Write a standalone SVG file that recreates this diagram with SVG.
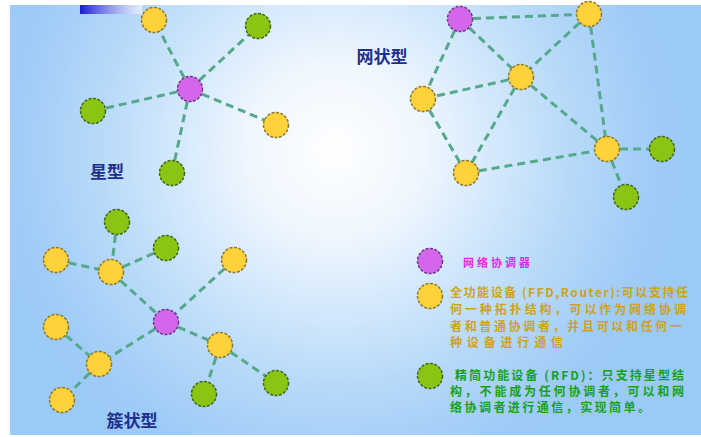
<svg xmlns="http://www.w3.org/2000/svg" width="701" height="437" viewBox="0 0 701 437">
  <defs>
    <radialGradient id="bg" cx="335" cy="150" r="360" gradientUnits="userSpaceOnUse">
      <stop offset="0" stop-color="#ffffff"/>
      <stop offset="0.25" stop-color="#eef6fe"/>
      <stop offset="0.65" stop-color="#b8daf9"/>
      <stop offset="0.9" stop-color="#9ecbf7"/>
      <stop offset="1" stop-color="#9ccaf7"/>
    </radialGradient>
    <linearGradient id="bar" x1="0" y1="0" x2="1" y2="0">
      <stop offset="0" stop-color="#1a1ad0"/>
      <stop offset="1" stop-color="#ffffff" stop-opacity="0.6"/>
    </linearGradient>
  </defs>
  <style>
    .link { stroke: #55a88c; stroke-width: 3; stroke-dasharray: 8 5; fill: none; }
    .ffd { fill: #ffd23c; stroke: #8c7a2a; stroke-width: 1.5; stroke-dasharray: 3 1.5; }
    .rfd { fill: #8cc414; stroke: #3e6a14; stroke-width: 1.5; stroke-dasharray: 3 1.5; }
    .pan { fill: #d466ec; stroke: #6e3a86; stroke-width: 1.5; stroke-dasharray: 3 1.5; }
    .title { font-family: "Noto Sans CJK SC", "Liberation Sans", sans-serif; font-size: 17px; font-weight: bold; fill: #1e2e8c; }
    .legend { font-family: "Noto Sans CJK SC", "Liberation Sans", sans-serif; font-size: 12px; font-weight: bold; }
    .gold { fill: #cfa21a; }
    .green { fill: #16a21a; }
    .mag { fill: #e02ce6; font-size: 11px; }
  </style>

  <!-- backdrop -->
  <rect x="0" y="0" width="701" height="437" fill="#ffffff"/>
  <rect x="10" y="5" width="691" height="430" fill="url(#bg)"/>
  <rect x="80" y="5" width="62" height="9" fill="url(#bar)"/>

  <!-- connectors -->
  <g id="connectors">
    <!-- star -->
    <path class="link" d="M190 89L154 20M190 89L258 26M190 89L93 111M190 89L276 125M190 89L172 173"/>
    <!-- mesh -->
    <path class="link" d="M460 19L589 14M460 19L521 77M460 19L423 99M589 14L521 77M589 14L607 149M521 77L423 99M521 77L466 173M521 77L607 149M423 99L466 173M466 173L607 149M607 149L662 149M607 149L626 197"/>
    <!-- cluster tree -->
    <path class="link" d="M117 222L111 272M166 248L111 272M56 260L111 272M111 272L166 322M234 260L166 322M166 322L99 364M166 322L220 345M56 327L99 364M99 364L62 400M220 345L204 394M220 345L276 383"/>
  </g>

  <!-- star topology -->
  <g id="star">
    <g id="star-pan"><circle class="pan" cx="190" cy="89" r="12.5"/></g>
    <g id="star-ffd-1"><circle class="ffd" cx="154" cy="20" r="12.5"/></g>
    <g id="star-rfd-1"><circle class="rfd" cx="258" cy="26" r="12.5"/></g>
    <g id="star-rfd-2"><circle class="rfd" cx="93" cy="111" r="12.5"/></g>
    <g id="star-ffd-2"><circle class="ffd" cx="276" cy="125" r="12.5"/></g>
    <g id="star-rfd-3"><circle class="rfd" cx="172" cy="173" r="12.5"/></g>
    <text class="title" x="107" y="178" text-anchor="middle">星型</text>
  </g>

  <!-- mesh topology -->
  <g id="mesh">
    <g id="mesh-pan"><circle class="pan" cx="460" cy="19" r="12.5"/></g>
    <g id="mesh-ffd-1"><circle class="ffd" cx="589" cy="14" r="12.5"/></g>
    <g id="mesh-ffd-2"><circle class="ffd" cx="521" cy="77" r="12.5"/></g>
    <g id="mesh-ffd-3"><circle class="ffd" cx="423" cy="99" r="12.5"/></g>
    <g id="mesh-ffd-4"><circle class="ffd" cx="607" cy="149" r="12.5"/></g>
    <g id="mesh-ffd-5"><circle class="ffd" cx="466" cy="173" r="12.5"/></g>
    <g id="mesh-rfd-1"><circle class="rfd" cx="662" cy="149" r="12.5"/></g>
    <g id="mesh-rfd-2"><circle class="rfd" cx="626" cy="197" r="12.5"/></g>
    <text class="title" x="382" y="63" text-anchor="middle">网状型</text>
  </g>

  <!-- cluster-tree topology -->
  <g id="cluster">
    <g id="cl-rfd-1"><circle class="rfd" cx="117" cy="222" r="12.5"/></g>
    <g id="cl-rfd-2"><circle class="rfd" cx="166" cy="248" r="12.5"/></g>
    <g id="cl-ffd-1"><circle class="ffd" cx="56" cy="260" r="12.5"/></g>
    <g id="cl-ffd-2"><circle class="ffd" cx="111" cy="272" r="12.5"/></g>
    <g id="cl-ffd-3"><circle class="ffd" cx="234" cy="260" r="12.5"/></g>
    <g id="cl-pan"><circle class="pan" cx="166" cy="322" r="12.5"/></g>
    <g id="cl-ffd-4"><circle class="ffd" cx="56" cy="327" r="12.5"/></g>
    <g id="cl-ffd-5"><circle class="ffd" cx="99" cy="364" r="12.5"/></g>
    <g id="cl-ffd-6"><circle class="ffd" cx="62" cy="400" r="12.5"/></g>
    <g id="cl-ffd-7"><circle class="ffd" cx="220" cy="345" r="12.5"/></g>
    <g id="cl-rfd-3"><circle class="rfd" cx="204" cy="394" r="12.5"/></g>
    <g id="cl-rfd-4"><circle class="rfd" cx="276" cy="383" r="12.5"/></g>
    <text class="title" x="132" y="427" text-anchor="middle">簇状型</text>
  </g>

  <!-- legend -->
  <g id="legend">
    <g id="legend-pan">
      <circle class="pan" cx="430" cy="261" r="12.5"/>
      <text class="legend mag" x="463" y="267" textLength="67" lengthAdjust="spacing">网络协调器</text>
    </g>
    <g id="legend-ffd">
      <circle class="ffd" cx="430" cy="296" r="12.5"/>
      <text class="legend gold" x="450" y="297" textLength="238" lengthAdjust="spacing">全功能设备 (FFD,Router):可以支持任</text>
      <text class="legend gold" x="450" y="314" textLength="236" lengthAdjust="spacing">何一种拓扑结构，可以作为网络协调</text>
      <text class="legend gold" x="450" y="331" textLength="232" lengthAdjust="spacing">者和普通协调者，并且可以和任何一</text>
      <text class="legend gold" x="450" y="347" textLength="113" lengthAdjust="spacing">种设备进行通信</text>
    </g>
    <g id="legend-rfd">
      <circle class="rfd" cx="430" cy="376" r="12.5"/>
      <text class="legend green" x="455" y="380" textLength="229" lengthAdjust="spacing">精简功能设备 (RFD)：只支持星型结</text>
      <text class="legend green" x="450" y="396" textLength="234" lengthAdjust="spacing">构，不能成为任何协调者，可以和网</text>
      <text class="legend green" x="450" y="412" textLength="200" lengthAdjust="spacing">络协调者进行通信，实现简单。</text>
    </g>
  </g>
</svg>
